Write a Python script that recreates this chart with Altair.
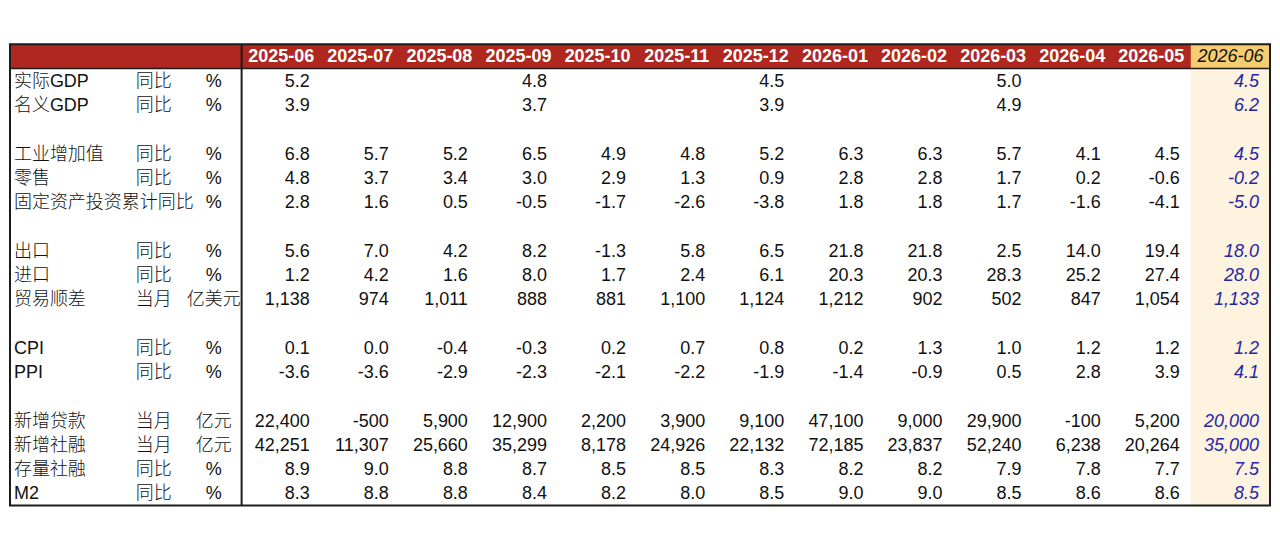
import altair as alt
import pandas as pd

# ---------------- data ----------------
months = ["2025-06", "2025-07", "2025-08", "2025-09", "2025-10", "2025-11", "2025-12",
          "2026-01", "2026-02", "2026-03", "2026-04", "2026-05", "2026-06"]

row_names = ["实际GDP", "名义GDP", "", "工业增加值", "零售", "固定资产投资累计同比", "",
             "出口", "进口", "贸易顺差", "", "CPI", "PPI", "",
             "新增贷款", "新增社融", "存量社融", "M2"]
row_measures = ["同比", "同比", "", "同比", "同比", "", "",
                "同比", "同比", "当月", "", "同比", "同比", "",
                "当月", "当月", "同比", "同比"]
row_units = ["%", "%", "", "%", "%", "%", "",
             "%", "%", "亿美元", "", "%", "%", "",
             "亿元", "亿元", "%", "%"]

real_gdp = [5.2, None, None, 4.8, None, None, 4.5, None, None, 5.0, None, None, 4.5]
nominal_gdp = [3.9, None, None, 3.7, None, None, 3.9, None, None, 4.9, None, None, 6.2]
industry = [6.8, 5.7, 5.2, 6.5, 4.9, 4.8, 5.2, 6.3, 6.3, 5.7, 4.1, 4.5, 4.5]
retail = [4.8, 3.7, 3.4, 3.0, 2.9, 1.3, 0.9, 2.8, 2.8, 1.7, 0.2, -0.6, -0.2]
fai = [2.8, 1.6, 0.5, -0.5, -1.7, -2.6, -3.8, 1.8, 1.8, 1.7, -1.6, -4.1, -5.0]
exports = [5.6, 7.0, 4.2, 8.2, -1.3, 5.8, 6.5, 21.8, 21.8, 2.5, 14.0, 19.4, 18.0]
imports = [1.2, 4.2, 1.6, 8.0, 1.7, 2.4, 6.1, 20.3, 20.3, 28.3, 25.2, 27.4, 28.0]
trade_balance = [1138, 974, 1011, 888, 881, 1100, 1124, 1212, 902, 502, 847, 1054, 1133]
cpi = [0.1, 0.0, -0.4, -0.3, 0.2, 0.7, 0.8, 0.2, 1.3, 1.0, 1.2, 1.2, 1.2]
ppi = [-3.6, -3.6, -2.9, -2.3, -2.1, -2.2, -1.9, -1.4, -0.9, 0.5, 2.8, 3.9, 4.1]
new_loans = [22400, -500, 5900, 12900, 2200, 3900, 9100, 47100, 9000, 29900, -100, 5200, 20000]
new_tsf = [42251, 11307, 25660, 35299, 8178, 24926, 22132, 72185, 23837, 52240, 6238, 20264, 35000]
tsf_stock = [8.9, 9.0, 8.8, 8.7, 8.5, 8.5, 8.3, 8.2, 8.2, 7.9, 7.8, 7.7, 7.5]
m2 = [8.3, 8.8, 8.8, 8.4, 8.2, 8.0, 8.5, 9.0, 9.0, 8.5, 8.6, 8.6, 8.5]

row_series = [real_gdp, nominal_gdp, None, industry, retail, fai, None,
              exports, imports, trade_balance, None, cpi, ppi, None,
              new_loans, new_tsf, tsf_stock, m2]
row_formats = ["{:.1f}", "{:.1f}", None, "{:.1f}", "{:.1f}", "{:.1f}", None,
               "{:.1f}", "{:.1f}", "{:,.0f}", None, "{:.1f}", "{:.1f}", None,
               "{:,.0f}", "{:,.0f}", "{:.1f}", "{:.1f}"]

# ---------------- layout (column units: label block 0-3, months 3-16) ----------------
LEFT = 0.072
RIGHT = 16
N_ROWS = len(row_names) + 1  # + header
FONT = "Liberation Sans, Arial, Noto Sans CJK SC"
LABEL_X, MEASURE_X, UNIT_X = 0.122, 1.662, 2.647
VALUE_OFFSET = 0.86
FIRST_COL = 3
FC = len(months) - 1  # forecast column index

RED = "#b0271f"
HEAD_YELLOW = "#f6cd70"
BODY_YELLOW = "#fdf3de"
BLUE = "#2525a6"
LINE = "#1c1c1c"

xs = alt.Scale(domain=[LEFT, RIGHT], nice=False, zero=False)
ys = alt.Scale(domain=[0, N_ROWS], nice=False, zero=False, reverse=True)

# ---------------- frames ----------------
bg = pd.DataFrame([
    {"x": LEFT, "x2": FIRST_COL + FC, "y": 0, "y2": 1, "c": RED},
    {"x": FIRST_COL + FC, "x2": RIGHT, "y": 0, "y2": 1, "c": HEAD_YELLOW},
    {"x": FIRST_COL + FC, "x2": RIGHT, "y": 1, "y2": N_ROWS, "c": BODY_YELLOW},
])

header = pd.DataFrame({
    "x": [FIRST_COL + j + 0.5 for j in range(len(months))],
    "y": [0.5] * len(months),
    "t": months,
    "fc": [j == FC for j in range(len(months))],
})

labels = []
for i, (n, m, u) in enumerate(zip(row_names, row_measures, row_units)):
    r = i + 1.5
    if n:
        labels.append({"x": LABEL_X, "y": r, "t": n, "a": "left"})
    if m:
        labels.append({"x": MEASURE_X, "y": r, "t": m, "a": "left"})
    if u:
        labels.append({"x": UNIT_X, "y": r, "t": u, "a": "center"})
labels = pd.DataFrame(labels)

vals = []
for i, (series, fmt) in enumerate(zip(row_series, row_formats)):
    if series is None:
        continue
    for j, v in enumerate(series):
        if v is None:
            continue
        vals.append({"x": FIRST_COL + j + VALUE_OFFSET, "y": i + 1.5,
                     "t": fmt.format(v), "fc": j == FC})
vals = pd.DataFrame(vals)

X = alt.X("x:Q", scale=xs, axis=None)
Y = alt.Y("y:Q", scale=ys, axis=None)

# ---------------- layers ----------------
bg_layer = alt.Chart(bg).mark_rect().encode(
    x=X, x2="x2:Q", y=Y, y2="y2:Q",
    color=alt.Color("c:N", scale=None),
)

lines = pd.DataFrame([
    {"x": FIRST_COL, "x2": FIRST_COL, "y": 0, "y2": N_ROWS, "w": 2},
    {"x": LEFT, "x2": RIGHT, "y": 1, "y2": 1, "w": 1.5},
])
line_layer = alt.Chart(lines).mark_rule(color=LINE).encode(
    x=X, x2="x2:Q", y=Y, y2="y2:Q",
    strokeWidth=alt.StrokeWidth("w:Q", scale=None),
)

frame = pd.DataFrame([{"x": LEFT, "x2": RIGHT, "y": 0, "y2": N_ROWS}])
frame_layer = alt.Chart(frame).mark_rect(fillOpacity=0, stroke=LINE, strokeWidth=2).encode(
    x=X, x2="x2:Q", y=Y, y2="y2:Q",
)

head_main = alt.Chart(header[~header.fc]).mark_text(
    font=FONT, fontSize=18, fontWeight="bold", color="white", align="center", baseline="middle", dy=1
).encode(x=X, y=Y, text="t:N")

head_fc = alt.Chart(header[header.fc]).mark_text(
    font=FONT, fontSize=18, fontStyle="italic", color="#111111", align="center", baseline="middle", dy=1
).encode(x=X, y=Y, text="t:N")

label_left = alt.Chart(labels[labels.a == "left"]).mark_text(
    font=FONT, fontSize=18, fontWeight=300, color="#111111", align="left", baseline="middle", dy=1
).encode(x=X, y=Y, text="t:N")

label_center = alt.Chart(labels[labels.a == "center"]).mark_text(
    font=FONT, fontSize=18, fontWeight=300, color="#111111", align="center", baseline="middle", dy=1
).encode(x=X, y=Y, text="t:N")

val_layer = alt.Chart(vals[~vals.fc]).mark_text(
    font=FONT, fontSize=18, color="#111111", align="right", baseline="middle", dy=1
).encode(x=X, y=Y, text="t:N")

fc_layer = alt.Chart(vals[vals.fc]).mark_text(
    font=FONT, fontSize=18, fontStyle="italic", color=BLUE, align="right", baseline="middle", dy=1
).encode(x=X, y=Y, text="t:N")

chart = alt.layer(
    bg_layer, line_layer, frame_layer, head_main, head_fc,
    label_left, label_center, val_layer, fc_layer
).properties(
    width=1262, height=462,
    padding={"left": 1, "top": 35, "right": 1, "bottom": 3},
    background="white",
).configure_view(stroke=None)

chart.save("out.html", embed_options={"renderer": "svg", "actions": False})
